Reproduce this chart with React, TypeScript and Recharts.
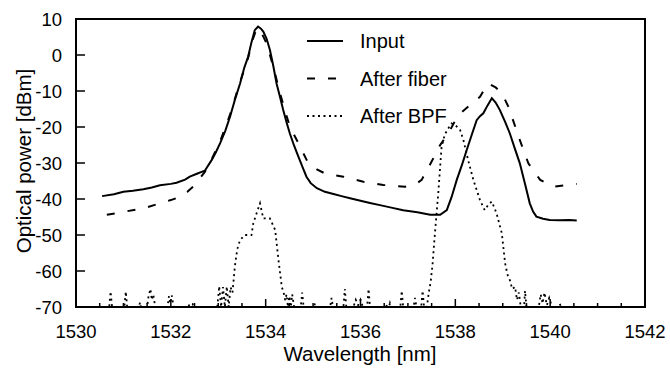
import { LineChart, Line, XAxis, YAxis, ReferenceArea, Customized } from "recharts"

// wavelength [nm], optical power [dBm]
const inputCurve: [number, number][] = [
  [1530.55, -39.2], [1530.8, -38.7], [1531.0, -38.0], [1531.2, -37.7], [1531.42, -37.3],
  [1531.6, -36.8], [1531.77, -36.2], [1532.0, -35.8], [1532.12, -35.5], [1532.3, -34.6],
  [1532.4, -33.8], [1532.55, -33.0], [1532.72, -32.1], [1532.86, -29.2], [1532.95, -27.0],
  [1533.04, -24.5], [1533.15, -21.0], [1533.25, -17.1], [1533.35, -12.5], [1533.46, -7.9],
  [1533.55, -3.5], [1533.63, -0.5], [1533.7, 3.5], [1533.77, 6.9], [1533.84, 7.9],
  [1533.9, 7.3], [1533.95, 6.5], [1534.02, 4.5], [1534.09, 1.4], [1534.16, -3.0],
  [1534.23, -7.9], [1534.3, -11.5], [1534.37, -15.3], [1534.44, -18.7], [1534.51, -21.8],
  [1534.6, -25.2], [1534.69, -28.2], [1534.78, -31.2], [1534.86, -33.8], [1534.95, -35.6],
  [1535.08, -37.0], [1535.25, -38.0], [1535.43, -38.6], [1535.6, -39.2], [1535.78, -39.8],
  [1536.0, -40.5], [1536.2, -41.1], [1536.41, -41.7], [1536.65, -42.4], [1536.9, -43.1],
  [1537.2, -43.7], [1537.47, -44.4], [1537.68, -44.4], [1537.82, -43.1], [1537.92, -39.5],
  [1538.03, -34.7], [1538.14, -30.5], [1538.24, -26.4], [1538.35, -22.0], [1538.45, -18.1],
  [1538.52, -17.0], [1538.59, -16.2], [1538.68, -14.0], [1538.77, -12.0], [1538.85, -13.2],
  [1538.94, -15.3], [1539.05, -18.6], [1539.15, -21.8], [1539.25, -25.8], [1539.36, -30.1],
  [1539.47, -35.8], [1539.57, -41.2], [1539.64, -43.5], [1539.71, -44.9], [1539.85, -45.5],
  [1539.99, -45.8], [1540.2, -45.9], [1540.4, -45.8], [1540.56, -46.0],
]

const fiberCurve: [number, number][] = [
  [1530.65, -44.4], [1531.03, -43.5], [1531.42, -42.6], [1531.77, -41.2], [1532.0, -40.3],
  [1532.19, -39.4], [1532.35, -38.0], [1532.51, -36.1], [1532.72, -32.4], [1532.86, -29.0],
  [1533.04, -24.0], [1533.25, -16.5], [1533.46, -7.5], [1533.63, -0.8], [1533.72, 4.0],
  [1533.81, 7.4], [1533.9, 6.5], [1534.02, 3.2], [1534.16, -3.2], [1534.3, -10.5],
  [1534.42, -16.0], [1534.51, -19.9], [1534.69, -24.5], [1534.9, -30.1], [1535.08, -31.8],
  [1535.25, -32.9], [1535.64, -33.8], [1536.06, -35.2], [1536.48, -36.1], [1536.94, -36.6],
  [1537.15, -36.0], [1537.29, -34.7], [1537.5, -29.6], [1537.68, -25.0], [1537.85, -21.8],
  [1538.06, -16.7], [1538.31, -13.9], [1538.52, -11.6], [1538.69, -7.9], [1538.85, -9.0],
  [1538.98, -10.6], [1539.12, -14.4], [1539.36, -23.6], [1539.54, -30.1], [1539.79, -34.7],
  [1540.07, -36.6], [1540.3, -36.2], [1540.56, -35.8],
]

const bpfCurve: [number, number][] = [
  [1530.6, -70], [1530.7, -70], [1530.73, -65.7], [1530.76, -70], [1531.02, -70],
  [1531.05, -65.7], [1531.08, -70], [1531.33, -70], [1531.35, -68.7], [1531.37, -70],
  [1531.5, -70], [1531.53, -67], [1531.57, -65], [1531.6, -68], [1531.63, -66.5],
  [1531.67, -70], [1531.93, -70], [1531.96, -67], [1531.99, -69], [1532.02, -66.8],
  [1532.06, -70], [1532.37, -70], [1532.4, -69], [1532.46, -69.2], [1532.48, -70],
  [1532.98, -70], [1533.02, -64.2], [1533.06, -70], [1533.1, -64.5], [1533.14, -70],
  [1533.18, -64.3], [1533.22, -70], [1533.26, -64.5], [1533.3, -66], [1533.35, -58.8],
  [1533.4, -54], [1533.46, -51.4], [1533.56, -50], [1533.7, -50], [1533.74, -46.7],
  [1533.82, -43.5], [1533.88, -41.2], [1533.95, -45.4], [1534.09, -45.4], [1534.2, -48.6],
  [1534.27, -56.9], [1534.34, -64.4], [1534.38, -66], [1534.41, -68.1], [1534.44, -66.5],
  [1534.47, -70], [1534.5, -67], [1534.53, -70], [1534.56, -66.5], [1534.6, -70],
  [1534.74, -70], [1534.77, -66], [1534.8, -70], [1535.02, -70], [1535.04, -69],
  [1535.06, -70], [1535.36, -70], [1535.39, -67.5], [1535.42, -70], [1535.64, -70],
  [1535.67, -65], [1535.7, -70], [1535.85, -70], [1535.9, -68], [1535.95, -69.5],
  [1536.0, -68], [1536.05, -70], [1536.14, -70], [1536.17, -65], [1536.2, -70],
  [1536.5, -70], [1536.52, -69.5], [1536.6, -70], [1536.62, -69], [1536.64, -70],
  [1536.84, -70], [1536.87, -65.5], [1536.9, -70], [1537.12, -70], [1537.15, -67.5],
  [1537.18, -70], [1537.28, -70], [1537.31, -65.5], [1537.34, -70], [1537.4, -70],
  [1537.44, -66], [1537.48, -63], [1537.52, -58], [1537.57, -49.5], [1537.64, -38.4],
  [1537.71, -25.5], [1537.78, -22], [1537.85, -20.4], [1537.92, -19.0], [1538.0, -19.5],
  [1538.1, -20.8], [1538.17, -23.6], [1538.27, -29.2], [1538.38, -34.7], [1538.52, -40.3],
  [1538.62, -43.1], [1538.7, -41.5], [1538.77, -40.7], [1538.87, -44], [1538.98, -49.5],
  [1539.05, -57.9], [1539.1, -61], [1539.15, -62.5], [1539.2, -65], [1539.26, -64.4],
  [1539.3, -68], [1539.34, -66], [1539.38, -70], [1539.45, -70], [1539.47, -65.5],
  [1539.5, -70], [1539.76, -70], [1539.8, -66.5], [1539.84, -69], [1539.88, -66],
  [1539.93, -69.5], [1539.98, -67.5], [1540.04, -70], [1540.18, -70], [1540.2, -69],
  [1540.23, -70],
]

const xLabels = [1530, 1532, 1534, 1536, 1538, 1540, 1542]
const xMinorTicks = [1530.5, 1531, 1531.5, 1532.5, 1533, 1533.5, 1534.5, 1535, 1535.5, 1536.5, 1537, 1537.5, 1538.5, 1539, 1539.5, 1540.5, 1541, 1541.5]
const yTicks = [-70, -60, -50, -40, -30, -20, -10, 0, 10]
const legendItems = ["Input", "After fiber", "After BPF"]

const FONT = '"Liberation Sans", Arial, Helvetica, sans-serif'
const DASH = "8 13"
const DOT = "2 3.5"

const toPoints = (arr: [number, number][]) => arr.map(([x, y]) => ({ x, y }))

function XTick({ x, y, payload }: any) {
  const major = xLabels.includes(payload.value)
  return (
    <g>
      <line x1={x} y1={y} x2={x} y2={y - (major ? 8 : 4)} stroke="#000" strokeWidth={1.5} />
      {major && (
        <text x={x} y={y + 31} textAnchor="middle" fontSize={18.5} fontFamily={FONT} fill="#000">
          {payload.value}
        </text>
      )}
    </g>
  )
}

function YTick({ x, y, payload }: any) {
  return (
    <g>
      <line x1={x} y1={y} x2={x + 9} y2={y} stroke="#000" strokeWidth={1.5} />
      <text x={x - 14} y={y + 6.5} textAnchor="end" fontSize={18.5} fontFamily={FONT} fill="#000">
        {payload.value}
      </text>
    </g>
  )
}

function Decorations() {
  const styles = [undefined, DASH, DOT]
  return (
    <g fontFamily={FONT} fill="#000">
      {legendItems.map((name, i) => {
        const cy = 41 + i * 37.5
        return (
          <g key={name}>
            <line x1={307} x2={343} y1={cy} y2={cy} stroke="#000" strokeWidth={2} strokeDasharray={styles[i]} />
            <text x={360} y={cy + 7} fontSize={20}>{name}</text>
          </g>
        )
      })}
      <text x={360} y={361} textAnchor="middle" fontSize={20.5}>Wavelength [nm]</text>
      <text transform="translate(31,161) rotate(-90)" textAnchor="middle" fontSize={20.5}>Optical power [dBm]</text>
    </g>
  )
}

export default function App() {
  const xTicks = [...xLabels, ...xMinorTicks].sort((a, b) => a - b)
  return (
    <div style={{ position: "absolute", left: 0, top: 0, background: "#fff" }}>
      <LineChart width={670} height={369} margin={{ top: 19, right: 25, bottom: 0, left: 16 }}>
        <XAxis
          type="number"
          dataKey="x"
          domain={[1530, 1542]}
          ticks={xTicks}
          interval={0}
          height={62}
          axisLine={false}
          tickLine={false}
          tickSize={0}
          tickMargin={0}
          tick={<XTick />}
          allowDataOverflow
        />
        <YAxis
          type="number"
          domain={[-70, 10]}
          ticks={yTicks}
          interval={0}
          width={60}
          axisLine={false}
          tickLine={false}
          tickSize={0}
          tickMargin={0}
          tick={<YTick />}
          allowDataOverflow
        />
        <ReferenceArea x1={1530} x2={1542} y1={-70} y2={10} fill="none" stroke="#000" strokeWidth={2} />
        <Line
          data={toPoints(inputCurve)}
          dataKey="y"
          type="linear"
          stroke="#000"
          strokeWidth={2}
          dot={false}
          isAnimationActive={false}
        />
        <Line
          data={toPoints(fiberCurve)}
          dataKey="y"
          type="linear"
          stroke="#000"
          strokeWidth={2}
          strokeDasharray={DASH}
          dot={false}
          isAnimationActive={false}
        />
        <Line
          data={toPoints(bpfCurve)}
          dataKey="y"
          type="linear"
          stroke="#000"
          strokeWidth={1.8}
          strokeDasharray={DOT}
          dot={false}
          isAnimationActive={false}
        />
        <Customized component={Decorations} />
      </LineChart>
    </div>
  )
}
